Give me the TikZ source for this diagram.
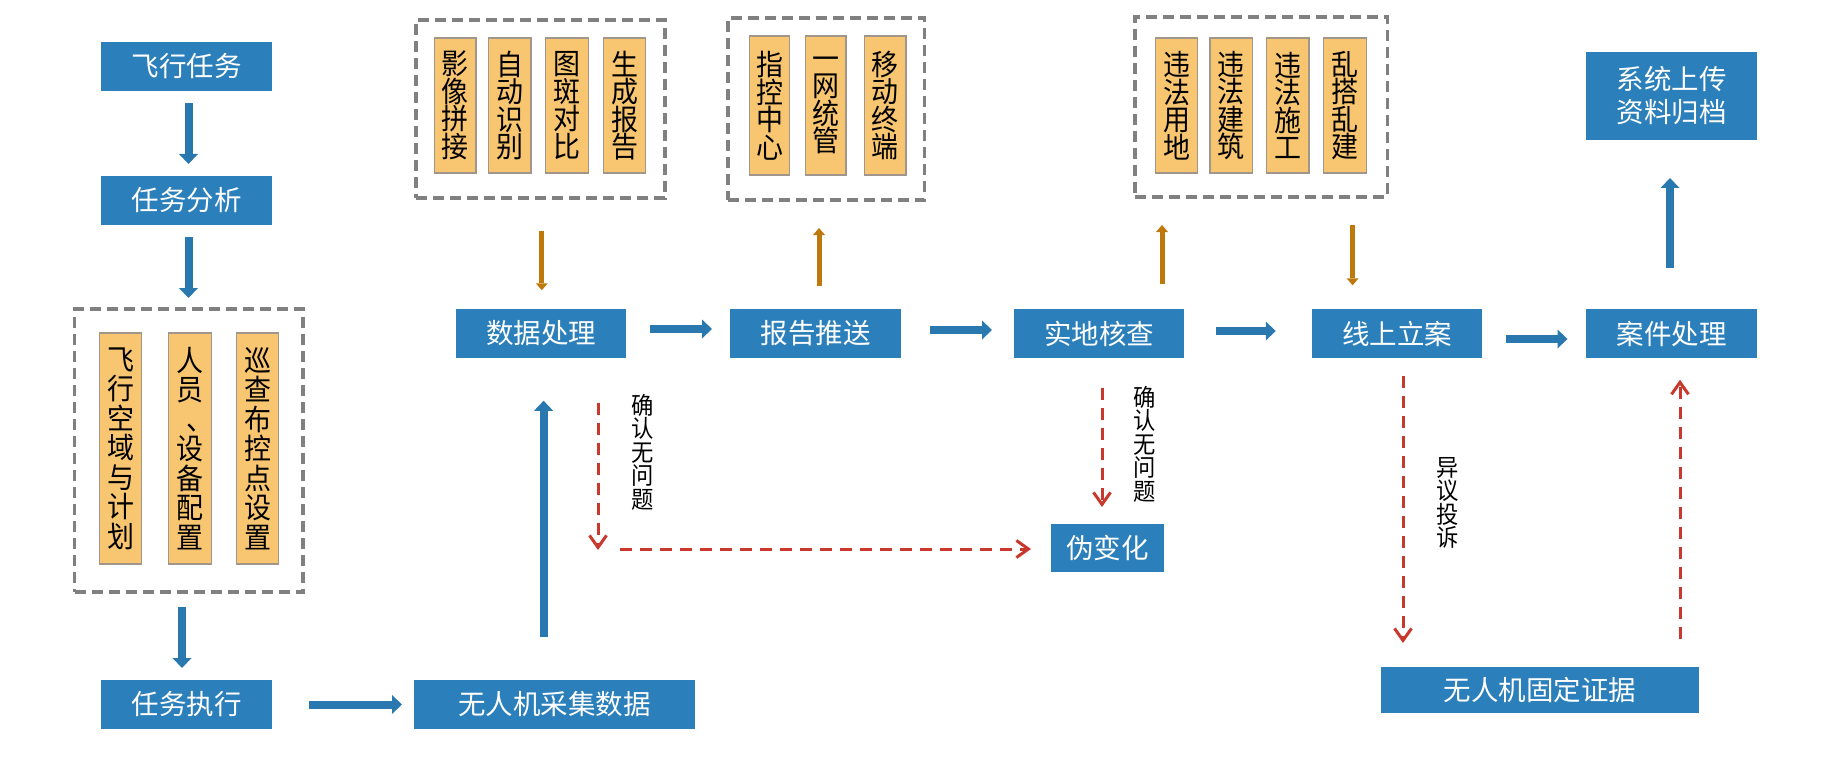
\documentclass[tikz,border=0pt]{standalone}
\usepackage{fontspec}
\setmainfont{Noto Sans CJK SC}
\newfontfamily\narrowcjk[FakeStretch=0.93]{Noto Sans CJK SC}
\usetikzlibrary{arrows.meta}
\definecolor{boxblue}{RGB}{43,127,186}
\definecolor{arrblue}{RGB}{42,120,176}
\definecolor{orfill}{RGB}{248,197,112}
\definecolor{orline}{RGB}{160,150,140}
\definecolor{grpgray}{RGB}{128,128,128}
\definecolor{goldarr}{RGB}{190,120,12}
\definecolor{reddash}{RGB}{200,56,44}
\begin{document}
\begin{tikzpicture}[x=1pt,y=-1pt,
  bluebox/.style={fill=boxblue,text=white,inner sep=0pt,outer sep=0pt,align=center,
    font=\fontsize{27.5}{33}\selectfont},
  orbox/.style={fill=orfill,draw=orline,line width=1.5pt,inner sep=0pt,outer sep=0pt,
    align=center,font=\narrowcjk\fontsize{29}{27.5}\selectfont},
  orboxL/.style={orbox,font=\narrowcjk\fontsize{29}{29.5}\selectfont},
  grpbox/.style={draw=grpgray,line width=3.5pt,dash pattern=on 11pt off 6pt,
    inner sep=0pt,outer sep=0pt},
  barrow/.style={draw=arrblue,line width=8pt,-{Triangle[length=10pt,width=19pt,line width=0pt]}},
  oarrow/.style={draw=goldarr,line width=5pt,-{Triangle[length=7pt,width=12pt,line width=0pt]}},
  rarrow/.style={draw=reddash,line width=3pt,dash pattern=on 12pt off 8pt,
    -{Straight Barb[length=12pt,width=17pt]}},
  lbl/.style={inner sep=0pt,align=center,font=\narrowcjk\fontsize{24}{23.5}\selectfont}
]
\fill[white] (0,0) rectangle (1840,757);
\useasboundingbox (0,0) rectangle (1840,757);

% left column
\node[bluebox,minimum width=171pt,minimum height=49pt] (t1) at (186.5,66.5) {飞行任务};
\node[bluebox,minimum width=171pt,minimum height=49pt] (t2) at (186.5,200.5) {任务分析};
\node[grpbox,minimum width=228.5pt,minimum height=283pt] (gL) at (188.75,450.5) {};
\node[orboxL,minimum width=42pt,minimum height=231pt] (oL1) at (120.5,448.5) {飞\\行\\空\\域\\与\\计\\划};
\node[orboxL,minimum width=43pt,minimum height=231pt] (oL2) at (190,448.5) {人\\员\\\kern0.35em 、\kern-0.35em\\设\\备\\配\\置};
\node[orboxL,minimum width=42pt,minimum height=231pt] (oL3) at (257.5,448.5) {巡\\查\\布\\控\\点\\设\\置};
\node[bluebox,minimum width=171pt,minimum height=49pt] (t3) at (186.5,704.5) {任务执行};
\node[bluebox,minimum width=281pt,minimum height=49pt] (t4) at (554.5,704.5) {无人机采集数据};

% main row
\node[bluebox,minimum width=170pt,minimum height=48.5pt] (t5) at (541,333.5) {数据处理};
\node[bluebox,minimum width=171pt,minimum height=48.5pt] (t6) at (815.5,333.5) {报告推送};
\node[bluebox,minimum width=170pt,minimum height=48.5pt] (t7) at (1099,333.5) {实地核查};
\node[bluebox,minimum width=170.5pt,minimum height=48.5pt] (t8) at (1397,333.5) {线上立案};
\node[bluebox,minimum width=171pt,minimum height=48.5pt] (t9) at (1671.5,333.5) {案件处理};
\node[bluebox,minimum width=171pt,minimum height=88pt] (t10) at (1671.5,96) {系统上传\\资料归档};
\node[bluebox,minimum width=113pt,minimum height=48pt] (t11) at (1107.5,548) {伪变化};
\node[bluebox,minimum width=318.5pt,minimum height=46pt] (t12) at (1540,690) {无人机固定证据};

% group 1
\node[grpbox,minimum width=249pt,minimum height=178pt] (g1) at (540.5,109) {};
\node[orbox,minimum width=41.5pt,minimum height=135pt] (o11) at (455.3,105.5) {影\\像\\拼\\接};
\node[orbox,minimum width=42.5pt,minimum height=135pt] (o12) at (509.8,105.5) {自\\动\\识\\别};
\node[orbox,minimum width=43pt,minimum height=135pt] (o13) at (567,105.5) {图\\斑\\对\\比};
\node[orbox,minimum width=42pt,minimum height=135pt] (o14) at (624.5,105.5) {生\\成\\报\\告};

% group 2
\node[grpbox,minimum width=196.5pt,minimum height=182pt] (g2) at (826.25,109) {};
\node[orbox,minimum width=40pt,minimum height=139pt] (o21) at (769.5,105.5) {指\\控\\中\\心};
\node[orbox,minimum width=40.5pt,minimum height=139pt] (o22) at (825.8,105.5) {一\\网\\统\\管};
\node[orbox,minimum width=41.5pt,minimum height=139pt] (o23) at (885.3,105.5) {移\\动\\终\\端};

% group 3
\node[grpbox,minimum width=252.5pt,minimum height=180pt] (g3) at (1261.25,107) {};
\node[orbox,minimum width=42pt,minimum height=135pt] (o31) at (1176.5,105.5) {违\\法\\用\\地};
\node[orbox,minimum width=42.5pt,minimum height=135pt] (o32) at (1231.3,105.5) {违\\法\\建\\筑};
\node[orbox,minimum width=42.5pt,minimum height=135pt] (o33) at (1287.8,105.5) {违\\法\\施\\工};
\node[orbox,minimum width=43pt,minimum height=135pt] (o34) at (1345,105.5) {乱\\搭\\乱\\建};

% labels
\node[lbl] (l1) at (642.5,452) {确\\认\\无\\问\\题};
\node[lbl] (l2) at (1145,444) {确\\认\\无\\问\\题};
\node[lbl] (l3) at (1448,503) {异\\议\\投\\诉};

% blue arrows
\draw[barrow,shorten <=12pt,shorten >=12pt] ([xshift=2pt]t1.south) -- ([xshift=2pt]t2.north);
\draw[barrow,shorten <=12pt,shorten >=11pt] ([xshift=2pt]t2.south) -- ([xshift=2pt]t2.south |- gL.north);
\draw[barrow,shorten <=15pt,shorten >=12pt] ([xshift=-4.5pt]t3.north |- gL.south) -- ([xshift=-4.5pt]t3.north);
\draw[barrow,shorten <=37pt,shorten >=12pt] (t3.east) -- (t4.west);
\draw[barrow,shorten <=43pt,shorten >=43pt] ([xshift=2.6pt]t5.south |- t4.north) -- ([xshift=2.6pt]t5.south);
\draw[barrow,shorten <=24pt,shorten >=18pt] ([yshift=4.5pt]t5.east) -- ([yshift=4.5pt]t6.west);
\draw[barrow,shorten <=29pt,shorten >=22pt] ([yshift=3.5pt]t6.east) -- ([yshift=3.5pt]t7.west);
\draw[barrow,shorten <=31.5pt,shorten >=36pt] ([yshift=2.5pt]t7.east) -- ([yshift=2.5pt]t8.west);
\draw[barrow,shorten <=23.5pt,shorten >=18.5pt] ([yshift=-5.5pt]t8.east) -- ([yshift=-5.5pt]t9.west);
\draw[barrow,shorten <=41pt,shorten >=38pt] ([xshift=-1.5pt]t9.north) -- ([xshift=-1.5pt]t10.south);

% gold arrows
\draw[oarrow,shorten <=33pt,shorten >=19pt] ([xshift=0.8pt]t5.north |- g1.south) -- ([xshift=0.8pt]t5.north);
\draw[oarrow,shorten <=23pt,shorten >=28pt] ([xshift=3.5pt]t6.north) -- ([xshift=3.5pt]t6.north |- g2.south);
\draw[oarrow,shorten <=25pt,shorten >=28pt] ([xshift=63pt]t7.north) -- ([xshift=63pt]t7.north |- g3.south);
\draw[oarrow,shorten <=28pt,shorten >=24pt] ([xshift=-44.4pt]t8.north |- g3.south) -- ([xshift=-44.4pt]t8.north);

% red dashed arrows
\coordinate (c1) at (598,550);
\coordinate (c2) at (620,549);
\draw[rarrow,shorten <=45pt] ([xshift=57pt]t5.south) -- (c1);
\draw[rarrow,shorten >=20pt] (c2) -- (c2 -| t11.west);
\draw[rarrow,shorten <=30pt,shorten >=17pt] ([xshift=3pt]t7.south) -- ([xshift=3pt]t7.south |- t11.north);
\draw[rarrow,shorten <=18pt,shorten >=24pt] ([xshift=6pt]t8.south) -- ([xshift=6pt]t8.south |- t12.north);
\draw[rarrow,shorten <=28pt,shorten >=22pt] ([xshift=8.5pt]t9.south |- t12.north) -- ([xshift=8.5pt]t9.south);
\end{tikzpicture}
\end{document}
